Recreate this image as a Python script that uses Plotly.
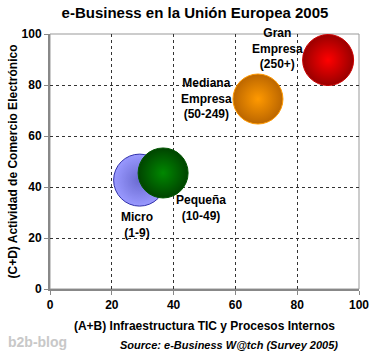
import plotly.graph_objects as go

categories = ["Micro<br>(1-9)", "Pequeña<br>(10-49)", "Mediana<br>Empresa<br>(50-249)", "Gran<br>Empresa<br>(250+)"]
x_infra = [29, 36.6, 67.3, 90]
y_comercio = [42.7, 45.5, 74.5, 89.8]
bubble_size = [52, 50, 50, 51]
x_ticks = [0, 20, 40, 60, 80, 100]
y_ticks = [0, 20, 40, 60, 80, 100]

centers = ["#6a6ad0", "#008800", "#ff9900", "#ff0000"]
edges = ["#9999ff", "#004400", "#bb6600", "#990000"]
lines = ["#3333aa", "#005500", "#ff9900", "#cc0000"]
shifts = [(-3, -45), (38, -35), (-51, 1), (-51, 12)]

FONT = "Liberation Sans, Arial, sans-serif"
fig = go.Figure()
for i in range(4):
    fig.add_trace(go.Scatter(
        x=[x_infra[i]], y=[y_comercio[i]], mode="markers",
        marker=dict(size=bubble_size[i], color=edges[i],
                    gradient=dict(type="radial", color=centers[i]),
                    line=dict(color=lines[i], width=1)),
        showlegend=False, hoverinfo="skip"))
    fig.add_annotation(x=x_infra[i], y=y_comercio[i], text="<b>%s</b>" % categories[i],
                       showarrow=False, xshift=shifts[i][0], yshift=shifts[i][1],
                       font=dict(family=FONT, size=12, color="#000"), align="center")

fig.add_shape(type="rect", xref="paper", yref="paper", x0=0, y0=0, x1=1, y1=1,
              line=dict(color="#999999", width=1), layer="below")

axis_common = dict(range=[0, 100], showgrid=True, gridcolor="#333333", griddash="dot",
                   gridwidth=1, zeroline=False, showline=True, linecolor="#888888",
                   linewidth=2, ticks="outside", ticklen=4, tickcolor="#888888",
                   tickfont=dict(family=FONT, size=12, color="#000"), fixedrange=True,
                   automargin=False)

fig.update_xaxes(tickvals=x_ticks, ticktext=["<b>%d</b>" % v for v in x_ticks],
                 title=dict(text="<b>(A+B) Infraestructura TIC y Procesos Internos</b>",
                            font=dict(family=FONT, size=12, color="#000"), standoff=10),
                 **axis_common)
fig.update_yaxes(tickvals=y_ticks, ticktext=["<b>%d</b>" % v for v in y_ticks],
                 title=dict(text="<b>(C+D) Actividad de Comercio Electrónico</b>",
                            font=dict(family=FONT, size=12, color="#000"), standoff=1),
                 **axis_common)

fig.add_annotation(xref="paper", yref="paper", x=0.58, y=-(345 - 289) / 255, yanchor="middle",
                   text="<b><i>Source: e-Business W@tch (Survey 2005)</i></b>", showarrow=False,
                   font=dict(family=FONT, size=11, color="#000"))
fig.add_annotation(xref="paper", yref="paper", x=-(50 - 6) / 309, xanchor="left",
                   y=-(342 - 289) / 255, yanchor="middle",
                   text="<b>b2b-blog</b>", showarrow=False,
                   font=dict(family=FONT, size=14, color="#c8c8c8"))

fig.update_layout(
    width=374, height=353,
    margin=dict(l=50, r=15, t=34, b=64),
    title=dict(text="<b>e-Business en la Unión Europea 2005</b>", x=195 / 374, xanchor="center",
               y=1 - 13 / 353, yanchor="middle", font=dict(family=FONT, size=15, color="#000")),
    plot_bgcolor="white", paper_bgcolor="white",
)
fig.write_html("out.html")
